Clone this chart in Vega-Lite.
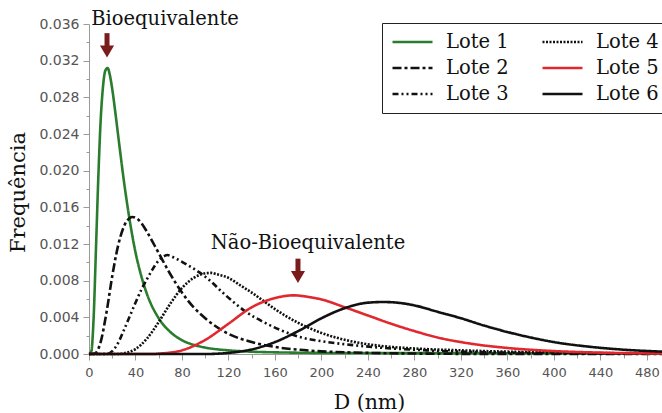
{
  "$schema": "https://vega.github.io/schema/vega-lite/v6.json",
  "autosize": {"type": "none"},
  "padding": {"left": 89, "top": 24, "right": 0, "bottom": 59},
  "width": 573,
  "height": 330,
  "background": "white",
  "config": {"view": {"stroke": null}},
  "datasets": {
    "curves": [
      {"lote": "Lote 1", "d": 0, "f": 0},
      {"lote": "Lote 1", "d": 2, "f": 0.0003},
      {"lote": "Lote 1", "d": 4, "f": 0.004},
      {"lote": "Lote 1", "d": 6, "f": 0.0115},
      {"lote": "Lote 1", "d": 8, "f": 0.0192},
      {"lote": "Lote 1", "d": 10, "f": 0.0254},
      {"lote": "Lote 1", "d": 12, "f": 0.0291},
      {"lote": "Lote 1", "d": 14, "f": 0.0309},
      {"lote": "Lote 1", "d": 16, "f": 0.0312},
      {"lote": "Lote 1", "d": 18, "f": 0.0304},
      {"lote": "Lote 1", "d": 20, "f": 0.0289},
      {"lote": "Lote 1", "d": 23, "f": 0.026},
      {"lote": "Lote 1", "d": 26, "f": 0.0229},
      {"lote": "Lote 1", "d": 30, "f": 0.0189},
      {"lote": "Lote 1", "d": 35, "f": 0.0146},
      {"lote": "Lote 1", "d": 40, "f": 0.0111},
      {"lote": "Lote 1", "d": 45, "f": 0.0085},
      {"lote": "Lote 1", "d": 50, "f": 0.0065},
      {"lote": "Lote 1", "d": 60, "f": 0.0039},
      {"lote": "Lote 1", "d": 70, "f": 0.0024},
      {"lote": "Lote 1", "d": 80, "f": 0.0015},
      {"lote": "Lote 1", "d": 90, "f": 0.001},
      {"lote": "Lote 1", "d": 100, "f": 0.0007},
      {"lote": "Lote 1", "d": 120, "f": 0.0004},
      {"lote": "Lote 1", "d": 140, "f": 0.00025},
      {"lote": "Lote 1", "d": 170, "f": 0.00016},
      {"lote": "Lote 1", "d": 200, "f": 0.00012},
      {"lote": "Lote 1", "d": 260, "f": 0.0001},
      {"lote": "Lote 1", "d": 350, "f": 0.00009},
      {"lote": "Lote 1", "d": 493, "f": 0.00008},

      {"lote": "Lote 2", "d": 0, "f": 0},
      {"lote": "Lote 2", "d": 5, "f": 0.00005},
      {"lote": "Lote 2", "d": 10, "f": 0.0013},
      {"lote": "Lote 2", "d": 15, "f": 0.0045},
      {"lote": "Lote 2", "d": 20, "f": 0.0085},
      {"lote": "Lote 2", "d": 25, "f": 0.0118},
      {"lote": "Lote 2", "d": 30, "f": 0.0139},
      {"lote": "Lote 2", "d": 35, "f": 0.01483},
      {"lote": "Lote 2", "d": 37.5, "f": 0.01495},
      {"lote": "Lote 2", "d": 40, "f": 0.01486},
      {"lote": "Lote 2", "d": 45, "f": 0.0143},
      {"lote": "Lote 2", "d": 50, "f": 0.0133},
      {"lote": "Lote 2", "d": 60, "f": 0.011},
      {"lote": "Lote 2", "d": 70, "f": 0.0087},
      {"lote": "Lote 2", "d": 80, "f": 0.0067},
      {"lote": "Lote 2", "d": 90, "f": 0.0051},
      {"lote": "Lote 2", "d": 100, "f": 0.0039},
      {"lote": "Lote 2", "d": 120, "f": 0.0022},
      {"lote": "Lote 2", "d": 140, "f": 0.0013},
      {"lote": "Lote 2", "d": 160, "f": 0.00077},
      {"lote": "Lote 2", "d": 180, "f": 0.00047},
      {"lote": "Lote 2", "d": 200, "f": 0.00029},
      {"lote": "Lote 2", "d": 240, "f": 0.00012},
      {"lote": "Lote 2", "d": 280, "f": 0.00005},
      {"lote": "Lote 2", "d": 340, "f": 0.00001},
      {"lote": "Lote 2", "d": 493, "f": 0},

      {"lote": "Lote 3", "d": 0, "f": 0},
      {"lote": "Lote 3", "d": 15, "f": 0},
      {"lote": "Lote 3", "d": 20, "f": 0.0003},
      {"lote": "Lote 3", "d": 25, "f": 0.0012},
      {"lote": "Lote 3", "d": 30, "f": 0.0026},
      {"lote": "Lote 3", "d": 35, "f": 0.0041},
      {"lote": "Lote 3", "d": 40, "f": 0.0056},
      {"lote": "Lote 3", "d": 45, "f": 0.007},
      {"lote": "Lote 3", "d": 50, "f": 0.0082},
      {"lote": "Lote 3", "d": 55, "f": 0.0093},
      {"lote": "Lote 3", "d": 60, "f": 0.0102},
      {"lote": "Lote 3", "d": 65, "f": 0.0107},
      {"lote": "Lote 3", "d": 67.5, "f": 0.0108},
      {"lote": "Lote 3", "d": 70, "f": 0.0107},
      {"lote": "Lote 3", "d": 75, "f": 0.0104},
      {"lote": "Lote 3", "d": 85, "f": 0.0097},
      {"lote": "Lote 3", "d": 95, "f": 0.0089},
      {"lote": "Lote 3", "d": 105, "f": 0.0079},
      {"lote": "Lote 3", "d": 115, "f": 0.0067},
      {"lote": "Lote 3", "d": 125, "f": 0.0056},
      {"lote": "Lote 3", "d": 135, "f": 0.0046},
      {"lote": "Lote 3", "d": 150, "f": 0.0035},
      {"lote": "Lote 3", "d": 165, "f": 0.0026},
      {"lote": "Lote 3", "d": 180, "f": 0.0019},
      {"lote": "Lote 3", "d": 200, "f": 0.0014},
      {"lote": "Lote 3", "d": 225, "f": 0.001},
      {"lote": "Lote 3", "d": 250, "f": 0.0007},
      {"lote": "Lote 3", "d": 290, "f": 0.0004},
      {"lote": "Lote 3", "d": 340, "f": 0.0002},
      {"lote": "Lote 3", "d": 400, "f": 0.0001},
      {"lote": "Lote 3", "d": 493, "f": 0.00004},

      {"lote": "Lote 4", "d": 0, "f": 0},
      {"lote": "Lote 4", "d": 25, "f": 0},
      {"lote": "Lote 4", "d": 30, "f": 0.00008},
      {"lote": "Lote 4", "d": 40, "f": 0.00054},
      {"lote": "Lote 4", "d": 50, "f": 0.0017},
      {"lote": "Lote 4", "d": 60, "f": 0.0035},
      {"lote": "Lote 4", "d": 70, "f": 0.0055},
      {"lote": "Lote 4", "d": 80, "f": 0.0072},
      {"lote": "Lote 4", "d": 90, "f": 0.0083},
      {"lote": "Lote 4", "d": 100, "f": 0.0088},
      {"lote": "Lote 4", "d": 105, "f": 0.00885},
      {"lote": "Lote 4", "d": 110, "f": 0.0087},
      {"lote": "Lote 4", "d": 120, "f": 0.0083},
      {"lote": "Lote 4", "d": 130, "f": 0.0075},
      {"lote": "Lote 4", "d": 140, "f": 0.0067},
      {"lote": "Lote 4", "d": 150, "f": 0.0058},
      {"lote": "Lote 4", "d": 160, "f": 0.0049},
      {"lote": "Lote 4", "d": 180, "f": 0.0034},
      {"lote": "Lote 4", "d": 200, "f": 0.0023},
      {"lote": "Lote 4", "d": 225, "f": 0.0014},
      {"lote": "Lote 4", "d": 250, "f": 0.0009},
      {"lote": "Lote 4", "d": 280, "f": 0.0006},
      {"lote": "Lote 4", "d": 320, "f": 0.0004},
      {"lote": "Lote 4", "d": 380, "f": 0.0002},
      {"lote": "Lote 4", "d": 440, "f": 0.0001},
      {"lote": "Lote 4", "d": 493, "f": 0.00005},

      {"lote": "Lote 5", "d": 0, "f": 0},
      {"lote": "Lote 5", "d": 55, "f": 0},
      {"lote": "Lote 5", "d": 60, "f": 0.00004},
      {"lote": "Lote 5", "d": 80, "f": 0.0004},
      {"lote": "Lote 5", "d": 100, "f": 0.00154},
      {"lote": "Lote 5", "d": 120, "f": 0.0033},
      {"lote": "Lote 5", "d": 140, "f": 0.0051},
      {"lote": "Lote 5", "d": 160, "f": 0.0061},
      {"lote": "Lote 5", "d": 176, "f": 0.0064},
      {"lote": "Lote 5", "d": 190, "f": 0.0062},
      {"lote": "Lote 5", "d": 200, "f": 0.00595},
      {"lote": "Lote 5", "d": 220, "f": 0.0051},
      {"lote": "Lote 5", "d": 240, "f": 0.0042},
      {"lote": "Lote 5", "d": 260, "f": 0.0033},
      {"lote": "Lote 5", "d": 280, "f": 0.0025},
      {"lote": "Lote 5", "d": 300, "f": 0.0018},
      {"lote": "Lote 5", "d": 330, "f": 0.0011},
      {"lote": "Lote 5", "d": 360, "f": 0.00066},
      {"lote": "Lote 5", "d": 400, "f": 0.00032},
      {"lote": "Lote 5", "d": 440, "f": 0.00015},
      {"lote": "Lote 5", "d": 493, "f": 0.00006},

      {"lote": "Lote 6", "d": 0, "f": 0},
      {"lote": "Lote 6", "d": 100, "f": 0},
      {"lote": "Lote 6", "d": 120, "f": 0.00012},
      {"lote": "Lote 6", "d": 140, "f": 0.0005},
      {"lote": "Lote 6", "d": 160, "f": 0.0013},
      {"lote": "Lote 6", "d": 180, "f": 0.0025},
      {"lote": "Lote 6", "d": 200, "f": 0.0039},
      {"lote": "Lote 6", "d": 220, "f": 0.005},
      {"lote": "Lote 6", "d": 240, "f": 0.0056},
      {"lote": "Lote 6", "d": 253, "f": 0.00567},
      {"lote": "Lote 6", "d": 260, "f": 0.00565},
      {"lote": "Lote 6", "d": 280, "f": 0.0053},
      {"lote": "Lote 6", "d": 300, "f": 0.0046},
      {"lote": "Lote 6", "d": 320, "f": 0.0039},
      {"lote": "Lote 6", "d": 340, "f": 0.0031},
      {"lote": "Lote 6", "d": 360, "f": 0.0024},
      {"lote": "Lote 6", "d": 380, "f": 0.0018},
      {"lote": "Lote 6", "d": 400, "f": 0.0013},
      {"lote": "Lote 6", "d": 430, "f": 0.0008},
      {"lote": "Lote 6", "d": 460, "f": 0.00047},
      {"lote": "Lote 6", "d": 493, "f": 0.00026}
    ],
    "shafts": [
      {"d": 15.5, "f": 0.035, "f2": 0.0332},
      {"d": 179.8, "f": 0.0104, "f2": 0.0086}
    ],
    "heads": [
      {"d": 15.5, "f": 0.033},
      {"d": 179.8, "f": 0.0084}
    ],
    "notes": [
      {"d": 65.4, "f": 0.0359, "txt": "Bioequivalente"},
      {"d": 188.4, "f": 0.01145, "txt": "Não-Bioequivalente"}
    ]
  },
  "encoding": {
    "x": {
      "field": "d",
      "type": "quantitative",
      "scale": {"domain": [0, 493], "nice": false},
      "axis": {
        "title": "D (nm)",
        "values": [0, 20, 40, 60, 80, 100, 120, 140, 160, 180, 200, 220, 240, 260, 280, 300, 320, 340, 360, 380, 400, 420, 440, 460, 480],
        "labelExpr": "datum.value % 40 == 0 ? datum.label : ''",
        "grid": false,
        "domainColor": "#9a9a9a",
        "tickColor": "#9a9a9a",
        "tickSize": {"condition": {"test": "datum.value % 40 == 0", "value": 6}, "value": 4},
        "labelFont": "DejaVu Sans",
        "labelFontSize": 13,
        "labelColor": "#555555",
        "labelPadding": 6,
        "labelFlush": false,
        "titleFont": "DejaVu Serif",
        "titleFontSize": 20.5,
        "titleFontWeight": "normal",
        "titleColor": "#111111",
        "titleX": 280,
        "titleY": 54,
        "titleBaseline": "alphabetic",
        "titleAlign": "center"
      }
    },
    "y": {
      "field": "f",
      "type": "quantitative",
      "scale": {"domain": [0, 0.036], "nice": false},
      "axis": {
        "title": "Frequência",
        "values": [0, 0.002, 0.004, 0.006, 0.008, 0.01, 0.012, 0.014, 0.016, 0.018, 0.02, 0.022, 0.024, 0.026, 0.028, 0.03, 0.032, 0.034, 0.036],
        "labelExpr": "round(datum.value * 1000) % 4 == 0 ? format(datum.value, '.3f') : ''",
        "grid": false,
        "domainColor": "#9a9a9a",
        "tickColor": "#9a9a9a",
        "tickSize": {"condition": {"test": "round(datum.value * 1000) % 4 == 0", "value": 6}, "value": 3},
        "labelFont": "DejaVu Sans",
        "labelFontSize": 14,
        "labelColor": "#555555",
        "labelPadding": 4,
        "labelFlush": false,
        "titleFont": "DejaVu Serif",
        "titleFontSize": 21,
        "titleFontWeight": "normal",
        "titleColor": "#111111",
        "titleX": -71,
        "titleY": 168,
        "titleAlign": "center",
        "titleBaseline": "middle"
      }
    }
  },
  "layer": [
    {
      "data": {"name": "curves"},
      "mark": {"type": "line", "strokeWidth": 2.6, "interpolate": "monotone"},
      "encoding": {
        "color": {
          "field": "lote",
          "type": "nominal",
          "scale": {
            "domain": ["Lote 1", "Lote 2", "Lote 3", "Lote 4", "Lote 5", "Lote 6"],
            "range": ["#2a7d2e", "#111111", "#111111", "#111111", "#e0282e", "#111111"]
          },
          "legend": {
            "orient": "none",
            "legendX": 293,
            "legendY": -1,
            "direction": "vertical",
            "columns": 2,
            "title": null,
            "symbolType": "stroke",
            "symbolSize": 1600,
            "symbolStrokeWidth": 2.6,
            "clipHeight": 20,
            "labelFont": "DejaVu Serif",
            "labelFontSize": 19.5,
            "labelColor": "#111111",
            "labelOffset": 12,
            "labelLimit": 0,
            "rowPadding": 6,
            "columnPadding": 32,
            "padding": 9,
            "strokeColor": "#222222",
            "fillColor": "white",
            "cornerRadius": 0
          }
        },
        "strokeDash": {
          "field": "lote",
          "type": "nominal",
          "scale": {
            "domain": ["Lote 1", "Lote 2", "Lote 3", "Lote 4", "Lote 5", "Lote 6"],
            "range": [[1, 0], [9, 3, 3, 3], [6, 3, 2, 3, 2, 3], [2, 1.5], [1, 0], [1, 0]]
          }
        }
      }
    },
    {
      "data": {"name": "shafts"},
      "mark": {"type": "rule", "color": "#7b1c1c", "strokeWidth": 5},
      "encoding": {
        "y2": {"field": "f2"}
      }
    },
    {
      "data": {"name": "heads"},
      "mark": {"type": "point", "shape": "triangle-down", "filled": true, "color": "#7b1c1c", "opacity": 1, "size": 200}
    },
    {
      "data": {"name": "notes"},
      "mark": {"type": "text", "font": "DejaVu Serif", "fontSize": 19.5, "color": "#111111", "align": "center", "baseline": "alphabetic"},
      "encoding": {
        "text": {"field": "txt"}
      }
    }
  ]
}
